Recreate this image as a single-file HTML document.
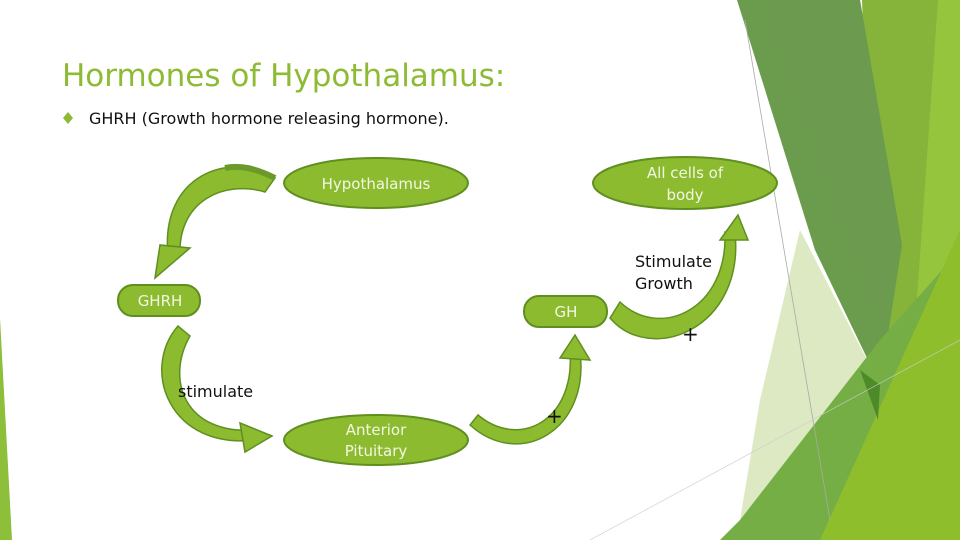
<!DOCTYPE html>
<html><head><meta charset="utf-8"><style>
html,body{margin:0;padding:0;background:#fff}
svg{display:block}
text{font-family:"DejaVu Sans","Liberation Sans",sans-serif}
</style></head><body>
<svg width="960" height="540" viewBox="0 0 960 540" xmlns="http://www.w3.org/2000/svg">
<rect width="960" height="540" fill="#fff"/>
<polygon points="0,318 12,540 0,540" fill="#8dbf3a"/>
<polygon points="862,0 960,0 960,540 880,540" fill="#86b33a"/>
<polygon points="938,0 960,0 960,540 900,540" fill="#95c43d"/>
<polygon points="800,230 880,385 740,520 760,400" fill="#dce9c3"/>
<polygon points="737,0 860,0 902,245 880,385 815,250" fill="#6b9b4c"/>
<polygon points="760,0 860,0 900,240 880,330" fill="#6c9a52" opacity="0.6"/>
<polygon points="880,340 960,250 960,540 720,540 740,520" fill="#74ae45"/>
<polygon points="960,230 960,540 820,540" fill="#8fbe2c"/>
<polygon points="860,370 880,385 878,420" fill="#4e8a28"/>
<line x1="745" y1="20" x2="830" y2="520" stroke="#aaa" stroke-width="0.8"/>
<line x1="590" y1="540" x2="960" y2="340" stroke="#ccc" stroke-width="0.6"/>
<text x="62" y="86" font-size="31" fill="#8dbb35">Hormones of Hypothalamus:</text>
<polygon points="68,112 73,118 68,124 63,118" fill="#8dbb35"/>
<text x="89" y="124" font-size="16" fill="#111">GHRH (Growth hormone releasing hormone).</text>
<g fill="#8cbb2f" stroke="#5f8f1f" stroke-width="1.5">
<path d="M275,178 C230,150 160,175 168,255 L180,255 C178,200 225,180 265,192 Z"/>
<polygon points="155,278 160,245 190,248"/>
<path d="M178,326 C140,370 170,450 255,440 L255,430 C185,435 165,380 190,336 Z"/>
<polygon points="272,436 240,423 245,452"/>
<path d="M470,425 C520,470 590,430 580,352 L570,352 C575,420 520,450 478,415 Z"/>
<polygon points="575,335 560,358 590,360"/>
<path d="M610,318 C650,365 745,330 735,232 L725,232 C728,310 660,340 620,302 Z"/>
<polygon points="738,215 720,240 748,240"/>
</g>
<path d="M275,178 C255,168 240,165 225,168" stroke="#6c9a2a" stroke-width="6" fill="none"/>
<g fill="#8cbb2f" stroke="#5f8f1f" stroke-width="2">
<ellipse cx="376" cy="183" rx="92" ry="25"/>
<ellipse cx="685" cy="183" rx="92" ry="26"/>
<ellipse cx="376" cy="440" rx="92" ry="25"/>
<rect x="118" y="285" width="82" height="31" rx="15"/>
<rect x="524" y="296" width="83" height="31" rx="15"/>
</g>
<g fill="#f2f7e4" font-size="15" text-anchor="middle">
<text x="376" y="189">Hypothalamus</text>
<text x="685" y="178">All cells of</text>
<text x="685" y="200">body</text>
<text x="376" y="435">Anterior</text>
<text x="376" y="456">Pituitary</text>
<text x="160" y="306">GHRH</text>
<text x="566" y="317">GH</text>
</g>
<g fill="#111" font-size="16">
<text x="178" y="397">stimulate</text>
<text x="635" y="267">Stimulate</text>
<text x="635" y="289">Growth</text>
<text x="682" y="341" font-size="20">+</text>
<text x="546" y="423" font-size="20">+</text>
</g>
</svg>
</body></html>
